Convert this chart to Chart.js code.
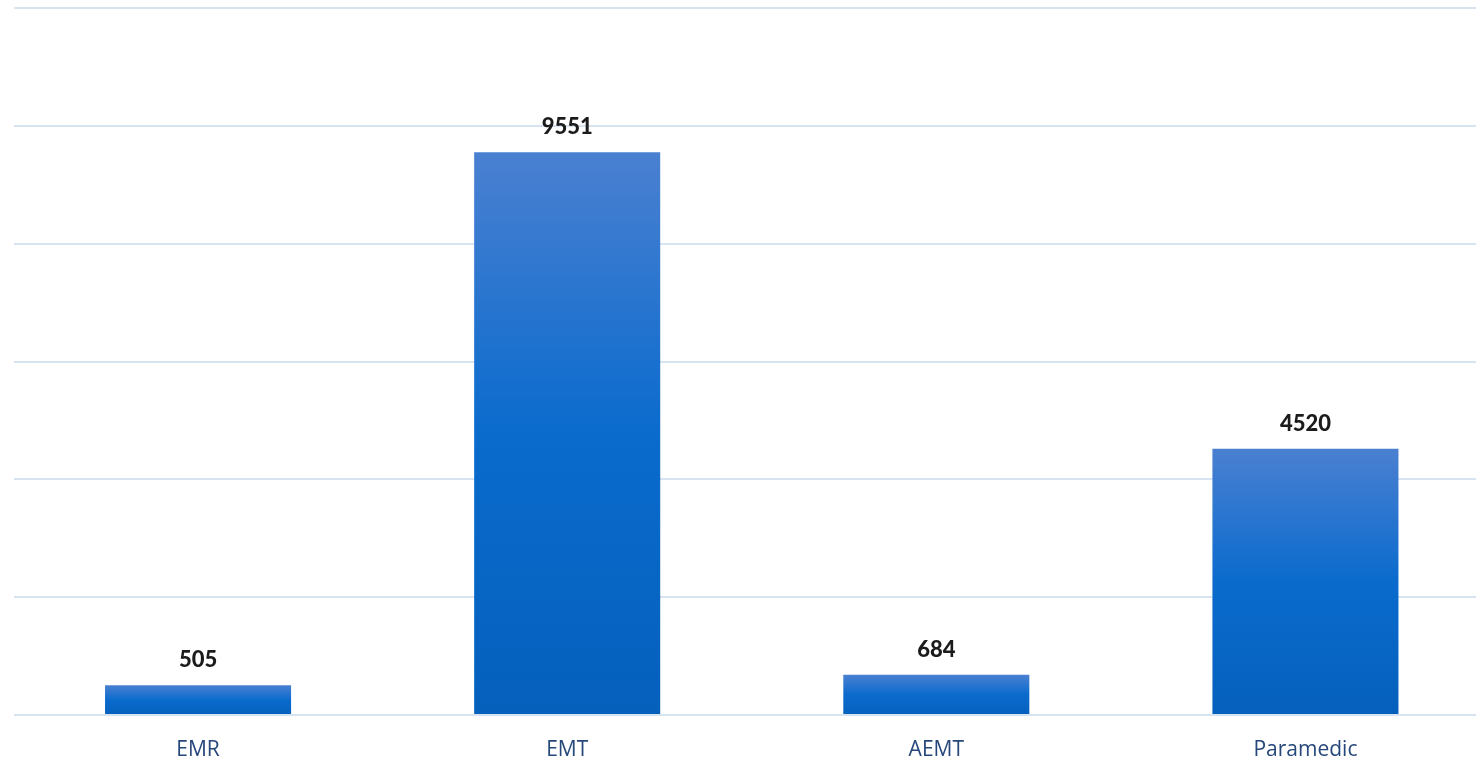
<!DOCTYPE html>
<html>
<head>
<meta charset="utf-8">
<script src="https://cdn.jsdelivr.net/npm/chart.js@4/dist/chart.umd.min.js"></script>
<style>
  html, body { margin: 0; padding: 0; background: #fff; overflow: hidden; }
  #wrap { width: 1490px; height: 758px; }
</style>
</head>
<body>
<div id="wrap"><canvas id="myChart"></canvas></div>
<script>
var levels = ["EMR", "EMT", "AEMT", "Paramedic"];
var counts = [505, 9551, 684, 4520];

// each bar gets its own light-to-dark gradient
function barFill(ctx) {
  var chart = ctx.chart;
  var y = chart.scales.y;
  if (!y || ctx.raw === undefined || !chart.chartArea) return "#0a68c8";
  var top = y.getPixelForValue(ctx.raw);
  var base = y.getPixelForValue(0);
  if (!isFinite(top) || !isFinite(base) || top === base) return "#0a68c8";
  var g = chart.ctx.createLinearGradient(0, top, 0, base);
  g.addColorStop(0, "#4a80d1");
  g.addColorStop(0.5, "#0a6bcd");
  g.addColorStop(1, "#0560bc");
  return g;
}

var valueLabels = {
  id: "valueLabels",
  afterDatasetsDraw: function (chart) {
    var c = chart.ctx;
    var meta = chart.getDatasetMeta(0);
    c.save();
    c.font = "900 22px Lato, 'Open Sans', sans-serif";
    c.fillStyle = "#1b1b1b";
    c.textAlign = "center";
    c.textBaseline = "middle";
    meta.data.forEach(function (bar, i) {
      c.fillText(String(counts[i]), bar.x, bar.y - 25);
    });
    c.restore();
  }
};

new Chart("myChart", {
  type: "bar",
  data: {
    labels: levels,
    datasets: [{ data: counts, backgroundColor: barFill, barPercentage: 0.504, categoryPercentage: 1 }]
  },
  options: {
    responsive: true,
    maintainAspectRatio: false,
    animation: false,
    layout: { padding: { top: 8, left: 0, right: 0, bottom: 0 } },
    plugins: { legend: { display: false }, tooltip: { enabled: false } },
    scales: {
      x: {
        grid: { display: false },
        border: { display: false },
        ticks: { color: "#26477a", font: { size: 21, family: "'Open Sans', sans-serif" }, padding: 14 },
        afterFit: function (s) { s.height = 43; }
      },
      y: {
        min: 0,
        max: 12000,
        ticks: { display: false, stepSize: 2000 },
        grid: { color: "#d8e3f1", lineWidth: 2, drawTicks: false },
        border: { display: false },
        afterFit: function (s) { s.width = 13.5; }
      }
    }
  },
  plugins: [valueLabels]
});
</script>
</body>
</html>
